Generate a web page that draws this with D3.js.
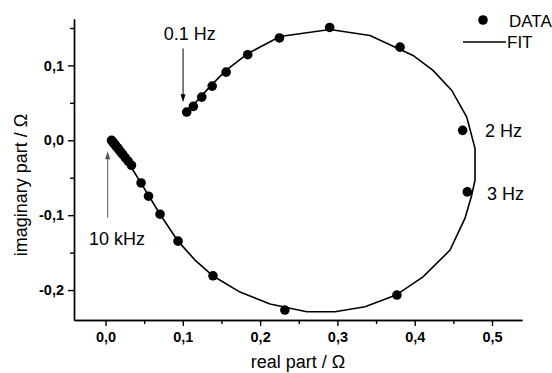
<!DOCTYPE html>
<html>
<head>
<meta charset="utf-8">
<script src="https://cdn.jsdelivr.net/npm/d3@7"></script>
<style>
  body { margin: 0; background: #fff; }
  text { font-family: "Liberation Sans", Arial, sans-serif; }
</style>
</head>
<body>
<div id="chart"></div>
<script>
// measured impedance (real / imaginary part, ohm)
var dataRe = [0.0078, 0.0086, 0.0096, 0.0108, 0.0121, 0.0136, 0.0153, 0.0172, 0.0195, 0.0222, 0.0254, 0.0292, 0.0335,
              0.046, 0.0556, 0.0705, 0.0938, 0.139, 0.232, 0.377, 0.468, 0.462, 0.381, 0.290, 0.225, 0.184, 0.156,
              0.138, 0.1245, 0.1136, 0.105];
var dataIm = [0, -0.0011, -0.0024, -0.0040, -0.0057, -0.0077, -0.0099, -0.0124, -0.0154, -0.0189, -0.0230, -0.0278, -0.0333,
              -0.057, -0.0747, -0.0987, -0.1347, -0.181, -0.2267, -0.2067, -0.0689, 0.0133, 0.1244, 0.1507, 0.1367, 0.1143, 0.091,
              0.0724, 0.0577, 0.0453, 0.0377];

// fitted curve
var fitRe = [0.0071, 0.0356, 0.0459, 0.0563, 0.0705, 0.0938, 0.1158, 0.1391, 0.174, 0.2128, 0.2603, 0.2969, 0.3357,
             0.3758, 0.4107, 0.4457, 0.4651, 0.4737, 0.478, 0.478, 0.4673, 0.4479, 0.4237, 0.3978, 0.3422, 0.2904,
             0.2257, 0.1843, 0.1559, 0.1378, 0.1248, 0.1132, 0.1041];
var fitIm = [0, -0.04, -0.0573, -0.0747, -0.0987, -0.1347, -0.16, -0.1813, -0.2027, -0.2187, -0.2289, -0.2289, -0.2223,
             -0.2067, -0.1823, -0.1467, -0.104, -0.0733, -0.0533, -0.0107, 0.0311, 0.0667, 0.0933, 0.1133, 0.14, 0.148,
             0.1387, 0.116, 0.0933, 0.0747, 0.06, 0.0467, 0.036];

var xTicks = [0, 0.1, 0.2, 0.3, 0.4, 0.5];
var xMinor = [0.05, 0.15, 0.25, 0.35, 0.45];
var yTicks = [-0.2, -0.1, 0, 0.1];
var yMinor = [-0.15, -0.05, 0.05, 0.15];

// frequency labels: text, x, y (data units)
var freqText = ["0.1 Hz", "10 kHz", "2 Hz", "3 Hz"];
var freqX = [0.109, -0.0213, 0.491, 0.4935];
var freqY = [0.134, -0.14, 0.0044, -0.08];
var freqAnchor = ["middle", "start", "start", "start"];

// arrows: x, y start, y end (data units)
var arrowX = [0.1003, 0.0028];
var arrowY0 = [0.1227, -0.1036];
var arrowY1 = [0.0507, -0.0147];
var arrowColor = ["#000", "#555"];

var width = 552, height = 373;
var svg = d3.select("#chart").append("svg")
    .attr("width", width).attr("height", height);

var x = d3.scaleLinear().domain([-0.0408, 0.5388]).range([74, 522]);
var y = d3.scaleLinear().domain([-0.24, 0.162]).range([320, 19]);

var comma = function(d) { return d3.format(".1f")(d).replace(".", ",").replace("\u2212", "-"); };

function styleAxis(g) {
    g.selectAll("path, line").attr("stroke", "#000").attr("stroke-width", 1.4);
    g.selectAll("text").attr("fill", "#000").style("font-size", "14.5px").style("font-weight", "bold")
        .style("font-family", "'Liberation Sans', Arial, sans-serif");
}

svg.append("g").attr("transform", "translate(0,320)")
    .call(d3.axisBottom(x).tickValues(xMinor).tickSize(4).tickFormat("").tickSizeOuter(0))
    .call(styleAxis);
svg.append("g").attr("transform", "translate(0,320)")
    .call(d3.axisBottom(x).tickValues(xTicks).tickSize(6).tickPadding(6).tickFormat(comma).tickSizeOuter(0))
    .call(styleAxis);

svg.append("g").attr("transform", "translate(74,0)")
    .call(d3.axisLeft(y).tickValues(yMinor).tickSize(4).tickFormat("").tickSizeOuter(0))
    .call(styleAxis);
svg.append("g").attr("transform", "translate(74,0)")
    .call(d3.axisLeft(y).tickValues(yTicks).tickSize(6).tickPadding(4).tickFormat(comma).tickSizeOuter(0))
    .call(styleAxis);

// axis titles
svg.append("text").attr("x", 298).attr("y", 368)
    .attr("text-anchor", "middle").style("font-size", "18px").text("real part / \u03A9");
svg.append("text").attr("transform", "translate(27,185) rotate(-90)")
    .attr("text-anchor", "middle").style("font-size", "18px").text("imaginary part / \u03A9");

// fit line
var fit = fitRe.map(function(d, i) { return [d, fitIm[i]]; });
svg.append("path").datum(fit)
    .attr("fill", "none").attr("stroke", "#000").attr("stroke-width", 1.6)
    .attr("d", d3.line().x(function(d) { return x(d[0]); }).y(function(d) { return y(d[1]); }));

// data points
svg.selectAll("circle.pt").data(dataRe).enter().append("circle")
    .attr("class", "pt")
    .attr("cx", function(d) { return x(d); })
    .attr("cy", function(d, i) { return y(dataIm[i]); })
    .attr("r", 4.8).attr("fill", "#000");

// arrows
arrowX.forEach(function(ax, i) {
    var px = x(ax), p0 = y(arrowY0[i]), p1 = y(arrowY1[i]);
    var dir = p1 > p0 ? 1 : -1;
    svg.append("line").attr("x1", px).attr("x2", px).attr("y1", p0).attr("y2", p1 - dir * 6)
        .attr("stroke", arrowColor[i]).attr("stroke-width", 1);
    svg.append("path")
        .attr("d", "M" + px + "," + p1 + "L" + (px - 2.5) + "," + (p1 - dir * 8) + "L" + (px + 2.5) + "," + (p1 - dir * 8) + "Z")
        .attr("fill", arrowColor[i]);
});

// frequency labels
freqText.forEach(function(t, i) {
    svg.append("text").attr("x", x(freqX[i])).attr("y", y(freqY[i]))
        .attr("text-anchor", freqAnchor[i]).style("font-size", "18px").text(t);
});

// legend
svg.append("circle").attr("cx", 483).attr("cy", 20).attr("r", 4.8).attr("fill", "#000");
svg.append("text").attr("x", 509).attr("y", 27).style("font-size", "17px").text("DATA");
svg.append("line").attr("x1", 463).attr("x2", 506).attr("y1", 42).attr("y2", 42)
    .attr("stroke", "#000").attr("stroke-width", 1.6);
svg.append("text").attr("x", 507).attr("y", 48).style("font-size", "17px").text("FIT");
</script>
</body>
</html>
